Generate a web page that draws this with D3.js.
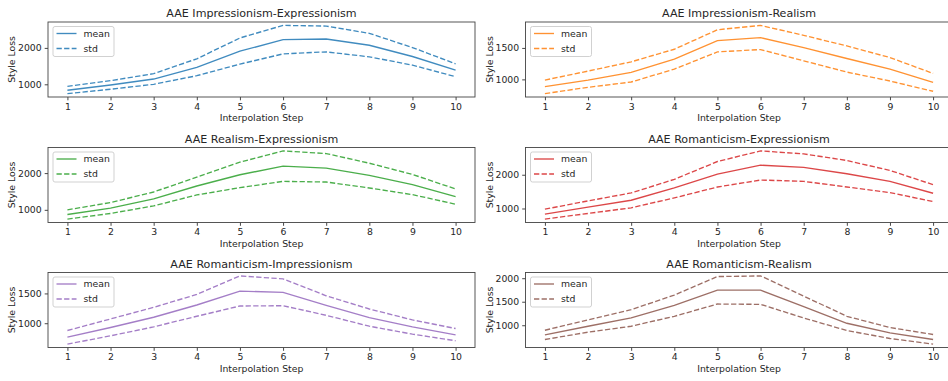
<!DOCTYPE html>
<html>
<head>
<meta charset="utf-8">
<script src="https://cdn.jsdelivr.net/npm/d3@7"></script>
<style>
  html, body { margin: 0; padding: 0; background: #fff; }
  svg { display: block; font-family: "DejaVu Sans", sans-serif; }
</style>
</head>
<body>
<svg id="chart" width="948" height="381"></svg>
<script>
// Interpolation steps on the x axis
const steps = [1, 2, 3, 4, 5, 6, 7, 8, 9, 10];

// Panel titles, in grid order (row by row)
const titles = [
  "AAE Impressionism-Expressionism",
  "AAE Impressionism-Realism",
  "AAE Realism-Expressionism",
  "AAE Romanticism-Expressionism",
  "AAE Romanticism-Impressionism",
  "AAE Romanticism-Realism"
];

const colors = ["#1f77b4", "#ff7f0e", "#2ca02c", "#d62728", "#9467bd", "#8c564b"];

// Style loss: mean and the mean ± std envelope for each style pair
const impExpMean  = [836, 982, 1145, 1464, 1909, 2227, 2245, 2073, 1764, 1391];
const impExpUpper = [945, 1100, 1291, 1700, 2273, 2618, 2600, 2400, 2009, 1564];
const impExpLower = [745, 864, 1000, 1236, 1555, 1836, 1891, 1755, 1527, 1209];

const impRealMean  = [884, 989, 1111, 1321, 1616, 1663, 1505, 1332, 1163, 953];
const impRealUpper = [989, 1132, 1279, 1479, 1789, 1858, 1700, 1532, 1347, 1095];
const impRealLower = [774, 874, 958, 1163, 1437, 1474, 1295, 1116, 974, 811];

const realExpMean  = [874, 1045, 1297, 1649, 1955, 2189, 2135, 1937, 1685, 1360];
const realExpUpper = [1000, 1198, 1486, 1892, 2297, 2604, 2532, 2270, 1964, 1568];
const realExpLower = [748, 901, 1108, 1405, 1604, 1775, 1757, 1595, 1414, 1153];

const romExpMean  = [833, 1039, 1245, 1608, 2020, 2284, 2216, 2029, 1804, 1451];
const romExpUpper = [980, 1225, 1461, 1863, 2392, 2706, 2618, 2422, 2127, 1706];
const romExpLower = [686, 853, 1020, 1314, 1637, 1843, 1804, 1637, 1471, 1206];

const romImpMean  = [767, 928, 1100, 1306, 1539, 1517, 1300, 1094, 939, 806];
const romImpUpper = [878, 1072, 1267, 1483, 1794, 1744, 1461, 1239, 1056, 911];
const romImpLower = [650, 789, 939, 1117, 1289, 1294, 1133, 950, 817, 706];

const romRealMean  = [796, 979, 1155, 1423, 1746, 1746, 1394, 1042, 838, 697];
const romRealUpper = [894, 1113, 1331, 1641, 2035, 2049, 1620, 1190, 951, 803];
const romRealLower = [697, 852, 979, 1190, 1451, 1444, 1155, 887, 718, 599];

// Y tick labels per panel
const yTicks = [
  [1000, 2000],
  [1000, 1500],
  [1000, 2000],
  [1000, 2000],
  [1000, 1500],
  [1000, 1500, 2000]
];

const means  = [impExpMean, impRealMean, realExpMean, romExpMean, romImpMean, romRealMean];
const uppers = [impExpUpper, impRealUpper, realExpUpper, romExpUpper, romImpUpper, romRealUpper];
const lowers = [impExpLower, impRealLower, realExpLower, romExpLower, romImpLower, romRealLower];

// Grid layout
const colLeft = [48, 525.5];
const rowTop = [22, 147.5, 272.5];
const plotW = 427, plotH = 75;
const tickFont = 9.3, titleFont = 11.1;
const dash = "5.3,2.3";

const svg = d3.select("#chart");

titles.forEach((title, i) => {
  const left = colLeft[i % 2];
  const top = rowTop[Math.floor(i / 2)];
  const color = colors[i];
  const all = means[i].concat(uppers[i], lowers[i]);
  const lo = d3.min(all), hi = d3.max(all);
  const pad = (hi - lo) * 0.05;

  const x = d3.scaleLinear().domain([0.55, 10.45]).range([left, left + plotW]);
  const y = d3.scaleLinear().domain([lo - pad, hi + pad]).range([top + plotH, top]);

  const g = svg.append("g");

  const clipId = "clip" + i;
  g.append("clipPath").attr("id", clipId)
    .append("rect").attr("x", left).attr("y", top).attr("width", plotW).attr("height", plotH);

  const line = d3.line().x((d, k) => x(steps[k])).y(d => y(d));
  const lines = g.append("g").attr("clip-path", `url(#${clipId})`);
  lines.append("path").datum(means[i]).attr("d", line)
    .attr("fill", "none").attr("stroke", color).attr("stroke-width", 1.35).attr("stroke-opacity", 0.85);
  [uppers[i], lowers[i]].forEach(series => {
    lines.append("path").datum(series).attr("d", line)
      .attr("fill", "none").attr("stroke", color).attr("stroke-width", 1.35)
      .attr("stroke-opacity", 0.85).attr("stroke-dasharray", dash);
  });

  // Axes
  const xAxis = g.append("g").attr("transform", `translate(0,${top + plotH})`)
    .call(d3.axisBottom(x).tickValues(steps).tickSize(3.3).tickPadding(3).tickFormat(d3.format("d")));
  const yAxis = g.append("g").attr("transform", `translate(${left},0)`)
    .call(d3.axisLeft(y).tickValues(yTicks[i]).tickSize(3.3).tickPadding(3).tickFormat(d3.format("d")));
  [xAxis, yAxis].forEach(a => {
    a.select(".domain").remove();
    a.selectAll(".tick line").attr("stroke", "#333").attr("stroke-width", 0.9);
    a.selectAll(".tick text").attr("fill", "#262626").attr("font-size", tickFont)
      .attr("font-family", "DejaVu Sans, sans-serif");
  });

  // Frame
  g.append("rect").attr("x", left).attr("y", top).attr("width", plotW).attr("height", plotH)
    .attr("fill", "none").attr("stroke", "#444").attr("stroke-width", 0.9);

  // Title and axis labels
  g.append("text").attr("x", left + plotW / 2).attr("y", top - 4.7)
    .attr("text-anchor", "middle").attr("font-size", titleFont).attr("fill", "#262626").text(title);
  g.append("text").attr("x", left + plotW / 2).attr("y", top + plotH + 24)
    .attr("text-anchor", "middle").attr("font-size", tickFont).attr("fill", "#262626").text("Interpolation Step");
  g.append("text").attr("transform", `translate(${left - 33},${top + plotH / 2}) rotate(-90)`)
    .attr("text-anchor", "middle").attr("font-size", tickFont).attr("fill", "#262626").text("Style Loss");

  // Legend
  const lg = g.append("g").attr("transform", `translate(${left + 5},${top + 4.5})`);
  lg.append("rect").attr("width", 61).attr("height", 30).attr("rx", 2)
    .attr("fill", "#fff").attr("fill-opacity", 0.8).attr("stroke", "#ccc").attr("stroke-width", 0.9);
  [["mean", null], ["std", dash]].forEach(([label, da], k) => {
    const ly = 7 + k * 15;
    lg.append("line").attr("x1", 3.5).attr("x2", 23.5).attr("y1", ly).attr("y2", ly)
      .attr("stroke", color).attr("stroke-width", 1.35).attr("stroke-opacity", 0.85)
      .attr("stroke-dasharray", da);
    lg.append("text").attr("x", 30.5).attr("y", ly + 3.3)
      .attr("font-size", tickFont).attr("fill", "#262626").text(label);
  });
});
</script>
</body>
</html>
